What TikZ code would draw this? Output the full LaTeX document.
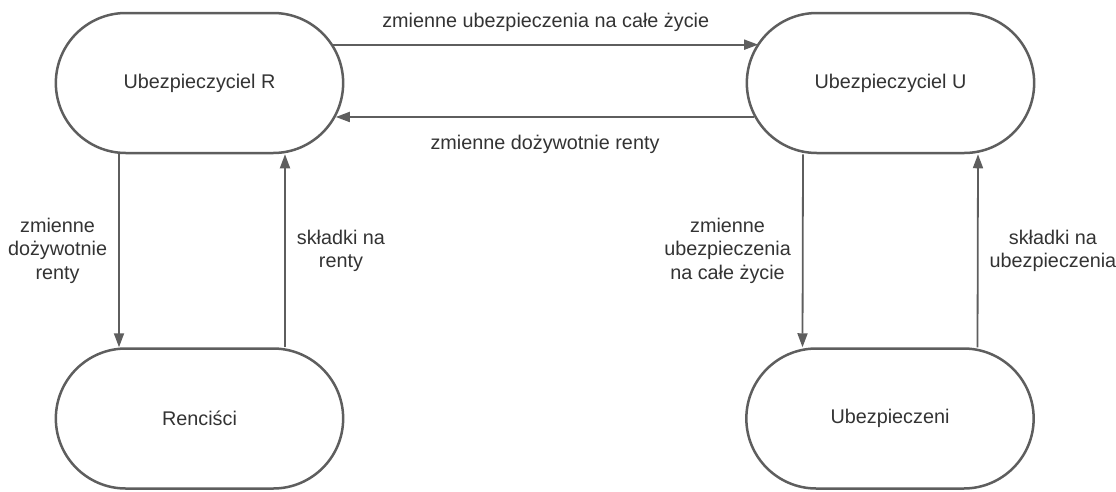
\documentclass[tikz,border=0pt]{standalone}
\usepackage{fontspec}
\setmainfont{Liberation Sans}
\usepackage{xcolor}
\usepackage{tikz}
\usetikzlibrary{shapes.misc,arrows.meta,positioning}
\definecolor{edge}{RGB}{94,94,94}
\definecolor{ink}{RGB}{51,51,51}

\begin{document}
\begin{tikzpicture}[x=1pt,y=-1pt,font=\fontsize{19.8}{23.5}\selectfont,text=ink,
  party/.style={draw=edge,line width=2.5pt,rounded rectangle,minimum width=294pt,minimum height=140pt,fill=white},
  flow/.style={draw=edge,line width=1.8pt,-{Triangle[length=14pt,width=10pt]}},
  lbl/.style={inner sep=0pt,align=center}]
  \useasboundingbox (0,0) rectangle (1116,491);
  % Parties
  \node[party] (ubezR) at (199.5,83) {Ubezpieczyciel R};
  \node[party] (ubezU) at (890.5,83) {Ubezpieczyciel U};
  \node[party] (rencisci) at (199.5,418.5) {Renciści};
  \node[party] (ubezpieczeni) at (890,418.5) {Ubezpieczeni};
  % Flows between insurers
  \draw[flow] (ubezR.16.9) -- (ubezR.16.9 -| ubezU.163.1) node[midway,above=12pt,lbl]{zmienne ubezpieczenia na całe życie};
  \draw[flow] (ubezU.194.1) -- (ubezU.194.1 -| ubezR.-14.1) node[midway,below=17pt,lbl]{zmienne dożywotnie renty};
  % Flows to clients
  \draw[flow] ([xshift=-80.5pt]ubezR.south) -- ([xshift=-80.5pt]rencisci.north) node[midway,left=11pt,lbl]{zmienne\\dożywotnie\\renty};
  \draw[flow] ([xshift=85.5pt]rencisci.north) -- ([xshift=85.5pt]ubezR.south) node[midway,right=11pt,lbl]{składki na\\renty};
  \draw[flow] ([xshift=-87.5pt]ubezU.south) -- ([xshift=-87.5pt]ubezpieczeni.north) node[midway,left=11pt,lbl]{zmienne\\ubezpieczenia\\na całe życie};
  \draw[flow] ([xshift=87.5pt]ubezpieczeni.north) -- ([xshift=87.5pt]ubezU.south) node[midway,right=11pt,lbl]{składki na\\ubezpieczenia};
\end{tikzpicture}
\end{document}
